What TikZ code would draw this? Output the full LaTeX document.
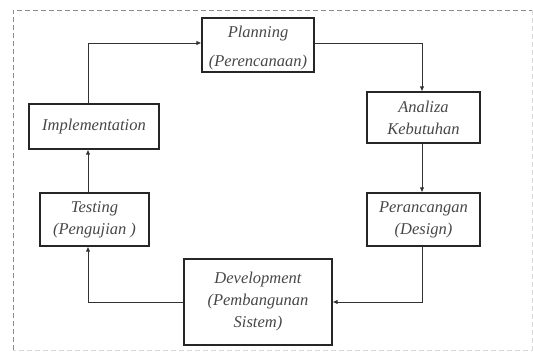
\documentclass[tikz,border=0pt]{standalone}
\usepackage{fontspec}
\setmainfont{Liberation Serif}
\usetikzlibrary{arrows.meta}
\begin{document}
\begin{tikzpicture}[x=1pt,y=-1pt,
  box/.style={draw=black!85,line width=1.1pt,rectangle,align=center,inner sep=0pt,
    font=\fontsize{16.5}{22}\selectfont\itshape,text=black!72},
  conn/.style={draw=black!80,line width=0.9pt,-{Latex[length=5pt,width=4.5pt]}},
  frame/.style={dashed,dash pattern=on 5pt off 3pt,line width=0.9pt}]
\useasboundingbox (0,0) rectangle (533,352);
\draw[frame,draw=black!45] (13,350) -- (13,10) -- (532,10);
\draw[frame,draw=black!15] (532,10) -- (532,350) -- (13,350);
\node[box,minimum width=112pt,minimum height=54pt] (plan) at (258,45) {\raisebox{-7pt}[0pt][0pt]{\begin{tabular}{@{}c@{}}Planning\\[7pt](Perencanaan)\end{tabular}}};
\node[box,minimum width=113pt,minimum height=51pt] (anal) at (423.5,117.5) {Analiza\\Kebutuhan};
\node[box,minimum width=113pt,minimum height=53pt] (desn) at (423.5,219.5) {Perancangan\\(Design)};
\node[box,minimum width=148pt,minimum height=86pt] (devt) at (258,302) {Development\\(Pembangunan\\Sistem)};
\node[box,minimum width=109pt,minimum height=53pt] (test) at (94.5,219.5) {Testing\\(Pengujian )};
\node[box,minimum width=130pt,minimum height=45pt] (impl) at (94,126.5) {Implementation};
\coordinate (lx) at (88,43);
\coordinate (rx) at (422,43);
\draw[conn] (impl.north -| lx) -- (lx) -- (plan.west |- lx);
\draw[conn] (plan.east |- rx) -- (rx) -- (anal.north -| rx);
\draw[conn] (anal.south -| rx) -- (desn.north -| rx);
\draw[conn] (desn.south -| rx) |- (devt.east);
\draw[conn] (devt.west) -| (test.south -| lx);
\draw[conn] (test.north -| lx) -- (impl.south -| lx);
\end{tikzpicture}
\end{document}
